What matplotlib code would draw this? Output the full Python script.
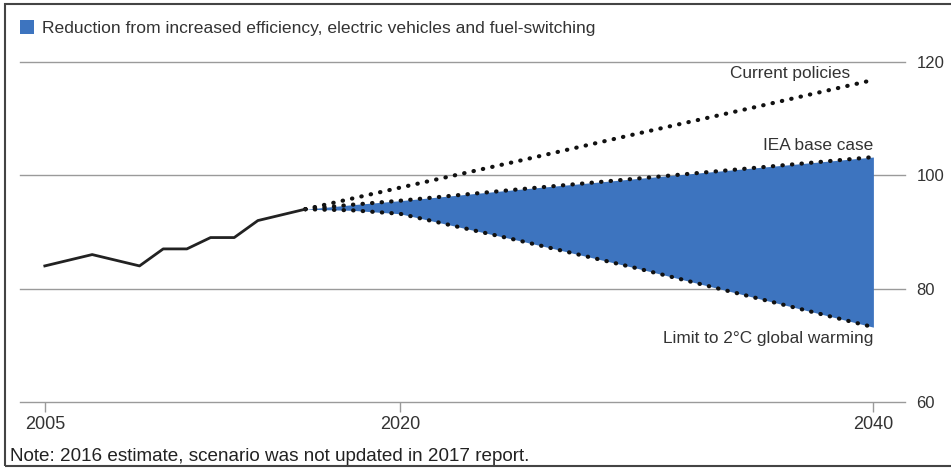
import matplotlib.pyplot as plt
from matplotlib.patches import Rectangle

plt.rcParams['font.family'] = ['Liberation Sans', 'DejaVu Sans']

hist_years = [2005, 2006, 2007, 2008, 2009, 2010, 2011, 2012, 2013, 2014, 2015, 2016]
hist_vals = [84, 85, 86, 85, 84, 87, 87, 89, 89, 92, 93, 94]

proj_years = [2016, 2018, 2020, 2025, 2030, 2035, 2040]
current = [94, 95.9, 97.8, 102.5, 107.3, 112.0, 116.8]
iea = [94, 94.8, 95.5, 97.5, 99.4, 101.3, 103.2]
limit = [94, 93.8, 93.2, 88.5, 83.6, 78.4, 73.2]

xticks = [2005, 2020, 2040]
yticks = [60, 80, 100, 120]

blue = '#3d74bf'
txt = '#333333'

fig = plt.figure(figsize=(9.51, 4.68), dpi=100)
ax = fig.add_axes([0.021, 0.141, 0.931, 0.727])

ax.fill_between(proj_years, limit, iea, color=blue, lw=0,
                label='Reduction from increased efficiency, electric vehicles and fuel-switching')
dots = dict(color='#111111', lw=3, linestyle=(0, (0.1, 2.2)), dash_capstyle='round')
ax.plot(proj_years, current, **dots)
ax.plot(proj_years, iea, **dots)
ax.plot(proj_years, limit, **dots)
ax.plot(hist_years, hist_vals, color='#222222', lw=2)

ax.set_xlim(2003.95, 2041.35)
ax.set_ylim(60, 120)
ax.set_yticks(yticks)
ax.set_xticks(xticks)
ax.yaxis.tick_right()
ax.grid(axis='y', color='#9a9a9a', lw=1)
for gl in ax.get_ygridlines():
    gl.set_clip_on(False)
ax.tick_params(axis='y', length=0, pad=8, labelsize=12, labelcolor=txt)
ax.tick_params(axis='x', length=7, color='#9a9a9a', width=1, pad=3, labelsize=13, labelcolor=txt)
for s in ax.spines.values():
    s.set_visible(False)
ax.set_axisbelow(True)

ax.text(2039.0, 118.0, 'Current policies', ha='right', va='center', fontsize=12.4, color=txt)
ax.text(2040, 105.2, 'IEA base case', ha='right', va='center', fontsize=12.4, color=txt)
ax.text(2040, 71.2, 'Limit to 2°C global warming', ha='right', va='center', fontsize=12.4, color=txt)

fig.legend(loc='upper left', bbox_to_anchor=(0.004, 0.99), frameon=False,
           handlelength=0.8, handleheight=0.8, handletextpad=0.5, fontsize=12.6,
           labelcolor=txt)

fig.text(0.011, 0.025, 'Note: 2016 estimate, scenario was not updated in 2017 report.',
         fontsize=13.6, color='#222222', va='center')

fig.patches.append(Rectangle((0.005, 0.004), 1.2, 0.987, transform=fig.transFigure,
                             fill=False, edgecolor='#444444', lw=1.5))

fig.savefig('out.png', dpi=100)
